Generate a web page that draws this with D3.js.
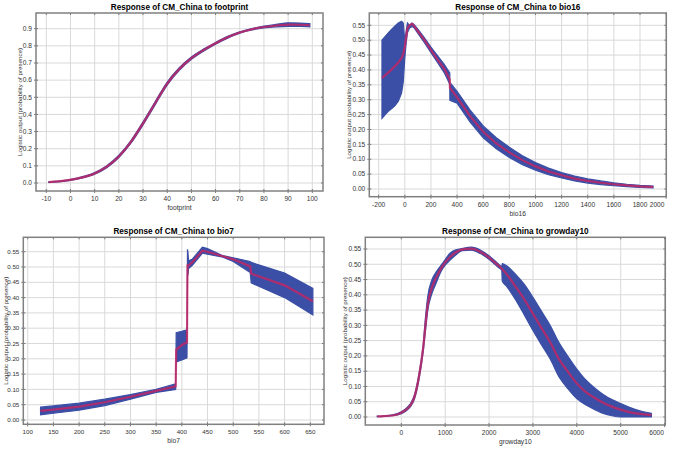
<!DOCTYPE html>
<html>
<head>
<meta charset="utf-8">
<script src="https://cdn.jsdelivr.net/npm/d3@7/dist/d3.min.js"></script>
<style>
body { margin: 0; background: #fff; }
svg { display: block; font-family: "Liberation Sans", Arial, sans-serif; }
</style>
</head>
<body>
<script>

// footprint response (mean and mean +/- sd)
var fpX    = [-9, -5, 0, 5, 10, 15, 20, 25, 30, 35, 40, 45, 50, 55, 60, 65, 70, 75, 80, 85, 90, 95, 99];
var fpMean = [0.005, 0.009, 0.018, 0.033, 0.056, 0.095, 0.155, 0.240, 0.348, 0.465, 0.580, 0.665, 0.728, 0.775, 0.815, 0.850, 0.878, 0.897, 0.910, 0.918, 0.924, 0.923, 0.920];
var fpLow  = [0.003, 0.007, 0.015, 0.029, 0.051, 0.089, 0.148, 0.232, 0.339, 0.456, 0.571, 0.657, 0.721, 0.769, 0.810, 0.845, 0.874, 0.893, 0.905, 0.911, 0.914, 0.913, 0.911];
var fpHigh = [0.007, 0.011, 0.021, 0.037, 0.061, 0.101, 0.162, 0.248, 0.357, 0.474, 0.589, 0.673, 0.735, 0.781, 0.820, 0.855, 0.882, 0.901, 0.915, 0.925, 0.934, 0.933, 0.930];

// bio16 response
var b16X    = [-175, -150, -125, -100, -75, -50, -25, -12, 0, 10, 20, 35, 55, 70, 100, 150, 200, 250, 300, 344, 345, 400, 500, 600, 700, 800, 900, 1000, 1100, 1200, 1300, 1400, 1500, 1600, 1700, 1800, 1900];
var b16Mean = [0.372, 0.382, 0.392, 0.402, 0.413, 0.425, 0.440, 0.455, 0.478, 0.510, 0.540, 0.550, 0.555, 0.548, 0.530, 0.500, 0.467, 0.435, 0.405, 0.368, 0.340, 0.308, 0.245, 0.192, 0.153, 0.123, 0.097, 0.076, 0.059, 0.046, 0.035, 0.027, 0.021, 0.016, 0.012, 0.009, 0.007];
var b16High = [0.500, 0.513, 0.525, 0.537, 0.548, 0.558, 0.564, 0.558, 0.495, 0.530, 0.558, 0.550, 0.558, 0.553, 0.537, 0.508, 0.477, 0.448, 0.420, 0.390, 0.358, 0.328, 0.265, 0.212, 0.172, 0.140, 0.112, 0.089, 0.070, 0.055, 0.043, 0.034, 0.027, 0.021, 0.016, 0.012, 0.010];
var b16Low  = [0.237, 0.250, 0.262, 0.270, 0.280, 0.295, 0.322, 0.360, 0.440, 0.490, 0.525, 0.540, 0.546, 0.542, 0.523, 0.492, 0.458, 0.425, 0.392, 0.352, 0.298, 0.288, 0.225, 0.172, 0.135, 0.106, 0.082, 0.063, 0.048, 0.037, 0.027, 0.020, 0.015, 0.011, 0.008, 0.005, 0.004];

// bio7 response
var b7X    = [125, 150, 200, 250, 300, 350, 388, 389, 400, 410, 411, 412, 413, 420, 440, 450, 480, 500, 533, 535, 600, 655];
var b7Mean = [0.030, 0.034, 0.044, 0.058, 0.076, 0.095, 0.110, 0.230, 0.245, 0.254, 0.505, 0.505, 0.505, 0.515, 0.553, 0.550, 0.535, 0.525, 0.502, 0.478, 0.440, 0.388];
var b7High = [0.042, 0.046, 0.055, 0.068, 0.083, 0.100, 0.118, 0.285, 0.290, 0.295, 0.558, 0.545, 0.520, 0.525, 0.565, 0.560, 0.537, 0.530, 0.518, 0.515, 0.480, 0.430];
var b7Low  = [0.017, 0.022, 0.032, 0.047, 0.068, 0.090, 0.100, 0.190, 0.196, 0.203, 0.470, 0.475, 0.495, 0.505, 0.545, 0.542, 0.532, 0.518, 0.482, 0.448, 0.400, 0.343];

// growday10 response
var gdX    = [-550, -400, -200, 0, 100, 200, 300, 400, 500, 550, 600, 700, 800, 900, 1000, 1100, 1200, 1400, 1600, 1800, 2000, 2200, 2290, 2300, 2400, 2600, 2800, 3000, 3200, 3400, 3600, 3800, 4000, 4200, 4400, 4600, 4800, 5000, 5200, 5400, 5700];
var gdMean = [0.002, 0.003, 0.005, 0.014, 0.023, 0.037, 0.066, 0.130, 0.228, 0.300, 0.365, 0.425, 0.458, 0.485, 0.506, 0.522, 0.535, 0.549, 0.551, 0.541, 0.522, 0.497, 0.486, 0.484, 0.468, 0.428, 0.386, 0.338, 0.290, 0.243, 0.188, 0.148, 0.110, 0.082, 0.063, 0.047, 0.034, 0.024, 0.016, 0.011, 0.006];
var gdHigh = [0.003, 0.004, 0.007, 0.017, 0.027, 0.042, 0.073, 0.140, 0.240, 0.325, 0.392, 0.450, 0.476, 0.496, 0.515, 0.535, 0.545, 0.552, 0.556, 0.547, 0.528, 0.503, 0.492, 0.502, 0.495, 0.468, 0.435, 0.392, 0.345, 0.298, 0.242, 0.198, 0.157, 0.122, 0.096, 0.074, 0.057, 0.044, 0.032, 0.022, 0.012];
var gdLow  = [0.001, 0.002, 0.004, 0.011, 0.019, 0.032, 0.059, 0.120, 0.215, 0.280, 0.345, 0.405, 0.440, 0.475, 0.497, 0.512, 0.525, 0.545, 0.546, 0.535, 0.516, 0.491, 0.480, 0.445, 0.428, 0.385, 0.335, 0.283, 0.235, 0.188, 0.130, 0.092, 0.060, 0.040, 0.025, 0.012, 0.004, 0.000, 0.000, 0.000, 0.000];

// tick values
var fpXTicks  = [-10, 0, 10, 20, 30, 40, 50, 60, 70, 80, 90, 100];
var fpYTicks  = [0, 0.1, 0.2, 0.3, 0.4, 0.5, 0.6, 0.7, 0.8, 0.9];
var b16XTicks = [-200, 0, 200, 400, 600, 800, 1000, 1200, 1400, 1600, 1800, 2000];
var b7XTicks  = [100, 150, 200, 250, 300, 350, 400, 450, 500, 550, 600, 650];
var gdXTicks  = [0, 1000, 2000, 3000, 4000, 5000, 6000];
var probTicks = [0, 0.05, 0.1, 0.15, 0.2, 0.25, 0.3, 0.35, 0.4, 0.45, 0.5, 0.55];

var yLabel = 'Logistic output (probability of presence)';

var svg = d3.select('body').append('svg')
    .attr('width', 677)
    .attr('height', 449);

function panel ( p ) {

    var x = d3.scaleLinear().domain( p.xRef ).range( p.xPx ),
        y = d3.scaleLinear().domain( p.yRef ).range( p.yPx ),
        f = p.frame,
        pts = p.xs.map( function ( d, i ) {
            return { x: d, m: p.mean[i], lo: p.low[i], hi: p.high[i] };
        });

    var g = svg.append( 'g' );

    // grid
    g.selectAll( '.vgrid' ).data( p.xTicks ).enter().append( 'line' )
        .attr( 'x1', x ).attr( 'x2', x )
        .attr( 'y1', f.t ).attr( 'y2', f.b )
        .style( 'stroke', '#d9d9d9' );
    g.selectAll( '.hgrid' ).data( p.yTicks ).enter().append( 'line' )
        .attr( 'y1', y ).attr( 'y2', y )
        .attr( 'x1', f.l ).attr( 'x2', f.r )
        .style( 'stroke', '#d9d9d9' );

    // sd band
    var area = d3.area()
        .x( function ( d ) { return x( d.x ); } )
        .y0( function ( d ) { return y( d.lo ); } )
        .y1( function ( d ) { return y( d.hi ); } )
        .curve( p.curve );
    g.append( 'path' )
        .attr( 'd', area( pts ) )
        .style( 'fill', '#3b4fa6' )
        .style( 'stroke', '#3b4fa6' )
        .style( 'stroke-width', 1.2 );

    // mean
    var line = d3.line()
        .x( function ( d ) { return x( d.x ); } )
        .y( function ( d ) { return y( d.m ); } )
        .curve( p.curve );
    g.append( 'path' )
        .attr( 'd', line( pts ) )
        .style( 'fill', 'none' )
        .style( 'stroke', '#d8205a' )
        .style( 'stroke-opacity', 0.72 )
        .style( 'stroke-width', 2.2 );

    // tick marks, outside and inside the frame
    var xa = g.append( 'g' );
    xa.selectAll( 'line' ).data( p.xTicks ).enter().append( 'line' )
        .attr( 'x1', x ).attr( 'x2', x )
        .attr( 'y1', f.b - 2 ).attr( 'y2', f.b + 2 )
        .style( 'stroke', '#777' );
    xa.selectAll( '.tt' ).data( p.xTicks ).enter().append( 'line' )
        .attr( 'x1', x ).attr( 'x2', x )
        .attr( 'y1', f.t ).attr( 'y2', f.t + 2 )
        .style( 'stroke', '#777' );
    var ya = g.append( 'g' );
    ya.selectAll( 'line' ).data( p.yTicks ).enter().append( 'line' )
        .attr( 'y1', y ).attr( 'y2', y )
        .attr( 'x1', f.l - 2 ).attr( 'x2', f.l + 2 )
        .style( 'stroke', '#777' );
    ya.selectAll( '.rt' ).data( p.yTicks ).enter().append( 'line' )
        .attr( 'y1', y ).attr( 'y2', y )
        .attr( 'x1', f.r ).attr( 'x2', f.r - 2 )
        .style( 'stroke', '#777' );

    // tick labels
    var fmtY = d3.format( p.yFmt );
    g.append( 'g' ).selectAll( 'text' ).data( p.xTicks ).enter().append( 'text' )
        .attr( 'x', function ( d, i ) {
            return x( d ) + ( i === p.xTicks.length - 1 ? ( p.lastShift || 0 ) : 0 );
        })
        .attr( 'y', f.b + 10 )
        .attr( 'text-anchor', 'middle' )
        .style( 'font-size', p.tickFont + 'px' )
        .style( 'fill', '#333' )
        .text( function ( d ) { return d; } );
    g.append( 'g' ).selectAll( 'text' ).data( p.yTicks ).enter().append( 'text' )
        .attr( 'x', f.l - 4 )
        .attr( 'y', y )
        .attr( 'dy', '0.34em' )
        .attr( 'text-anchor', 'end' )
        .style( 'font-size', p.tickFont + 'px' )
        .style( 'fill', '#333' )
        .text( fmtY );

    // frame
    g.append( 'rect' )
        .attr( 'x', f.l ).attr( 'y', f.t )
        .attr( 'width', f.r - f.l ).attr( 'height', f.b - f.t )
        .style( 'fill', 'none' )
        .style( 'stroke', '#808080' )
        .style( 'stroke-width', 1.5 );

    // labels
    g.append( 'text' )
        .attr( 'x', ( f.l + f.r ) / 2 )
        .attr( 'y', f.t - 3 )
        .attr( 'text-anchor', 'middle' )
        .style( 'font', 'bold 8.2px "Liberation Sans", Arial, sans-serif' )
        .text( 'Response of CM_China to ' + p.name );
    g.append( 'text' )
        .attr( 'x', ( f.l + f.r ) / 2 )
        .attr( 'y', f.b + 19 )
        .attr( 'text-anchor', 'middle' )
        .style( 'font-size', '6.7px' )
        .style( 'fill', '#333' )
        .text( p.name );
    g.append( 'text' )
        .attr( 'transform', 'translate(' + p.yLabelX + ',' + ( f.t + f.b ) / 2 + ') rotate(-90)' )
        .attr( 'text-anchor', 'middle' )
        .style( 'font-size', '6.2px' )
        .style( 'fill', '#333' )
        .text( yLabel );
}

panel({
    name: 'footprint', xs: fpX, mean: fpMean, low: fpLow, high: fpHigh,
    xTicks: fpXTicks, yTicks: fpYTicks, yFmt: '.1f', tickFont: 6.6,
    xRef: [-10, 100], xPx: [46.3, 312.3], yRef: [0, 0.9], yPx: [183, 28.7],
    frame: { l: 36, r: 323, t: 13, b: 191 }, yLabelX: 21.5,
    curve: d3.curveMonotoneX
});

panel({
    name: 'bio16', xs: b16X, mean: b16Mean, low: b16Low, high: b16High,
    xTicks: b16XTicks, yTicks: probTicks, yFmt: '.2f', tickFont: 6.6,
    xRef: [-200, 1800], xPx: [378.7, 640], yRef: [0, 0.55], yPx: [189, 25.3],
    frame: { l: 369.3, r: 666.3, t: 13, b: 196.7 }, yLabelX: 351,
    curve: d3.curveLinear, lastShift: -9
});

panel({
    name: 'bio7', xs: b7X, mean: b7Mean, low: b7Low, high: b7High,
    xTicks: b7XTicks, yTicks: probTicks, yFmt: '.2f', tickFont: 6.2,
    xRef: [100, 650], xPx: [27.7, 310.3], yRef: [0, 0.55], yPx: [420, 251.7],
    frame: { l: 23.3, r: 324, t: 237.3, b: 424.3 }, yLabelX: 8,
    curve: d3.curveLinear
});

panel({
    name: 'growday10', xs: gdX, mean: gdMean, low: gdLow, high: gdHigh,
    xTicks: gdXTicks, yTicks: probTicks, yFmt: '.2f', tickFont: 6.6,
    xRef: [0, 5000], xPx: [401.3, 620.7], yRef: [0, 0.55], yPx: [417, 249],
    frame: { l: 365.3, r: 665.3, t: 237.3, b: 425 }, yLabelX: 346.5,
    curve: d3.curveMonotoneX, lastShift: -8
});

</script>
</body>
</html>
